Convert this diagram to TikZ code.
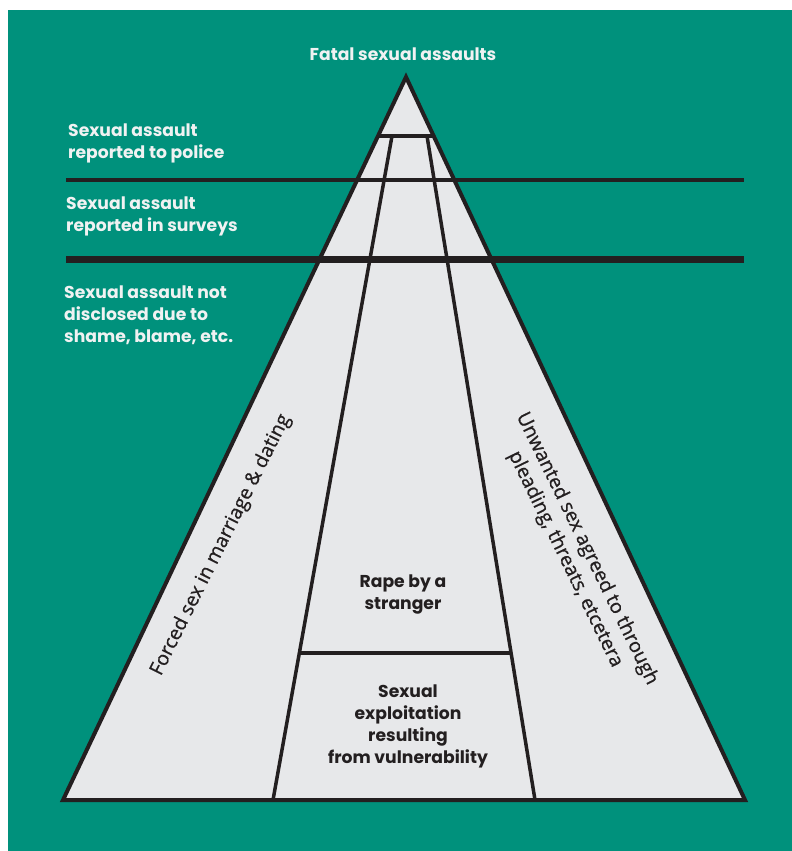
\documentclass[tikz,border=0pt]{standalone}
\usepackage{fontspec}
\setmainfont{Open Sans}[FakeBold=0.7]
\newfontfamily\headfont{Poppins}
\usetikzlibrary{calc}
\definecolor{tealbg}{RGB}{0,145,124}
\definecolor{pyrfill}{RGB}{231,232,234}
\definecolor{ink}{RGB}{35,31,32}
\definecolor{paletext}{RGB}{240,242,242}
\tikzset{
  wlabel/.style={text=paletext, font=\headfont\bfseries\fontsize{17.2}{22}\selectfont, inner sep=0pt},
  dlabel/.style={text=ink, font=\headfont\bfseries\fontsize{17.2}{22}\selectfont, inner sep=0pt, align=center},
  slabel/.style={text=ink, font=\fontsize{19.6}{24}\selectfont, inner sep=0pt, align=center},
  edge/.style={draw=ink, line width=4pt, line join=miter},
  divider/.style={draw=ink, line width=3.5pt},
}
\begin{document}
\begin{tikzpicture}[x=1pt,y=-1pt]
  \useasboundingbox (0,0) rectangle (792,851);
  \fill[white] (0,0) rectangle (792,851);
  \fill[tealbg] (8,10) rectangle (792,851);

  % pyramid corners
  \coordinate (apex) at (406,77);
  \coordinate (bl) at (63,800);
  \coordinate (br) at (745,800);
  % top cap
  \coordinate (capL) at ($(apex)!0.0816!(bl)$);
  \coordinate (capR) at ($(apex)!0.0816!(br)$);
  % inner dividers
  \coordinate (inLt) at (392,136);
  \coordinate (inLb) at (273,800);
  \coordinate (inRt) at (427,136);
  \coordinate (inRb) at (535,800);
  \coordinate (midL) at ($(inLt)!0.7786!(inLb)$);
  \coordinate (midR) at ($(inRt)!0.7786!(inRb)$);

  \filldraw[fill=pyrfill, edge] (apex) -- (br) -- (bl) -- cycle;
  \draw[divider] (capL) -- (capR);
  \draw[divider] (inLt) -- (inLb);
  \draw[divider] (inRt) -- (inRb);
  \draw[divider] (midL) -- (midR);

  % reporting thresholds
  \coordinate (t1a) at (66,180);
  \coordinate (t1b) at (744,180);
  \coordinate (t2a) at (66,259.5);
  \coordinate (t2b) at (744,259.5);
  \draw[draw=ink, line width=4pt] (t1a) -- (t1b);
  \draw[draw=ink, line width=7pt] (t2a) -- (t2b);

  % labels
  \node[wlabel] (fatal) at (403,54) {Fatal sexual assaults};
  \node[wlabel, anchor=west, align=left] (police) at (68,143) {Sexual assault\\reported to police};
  \node[wlabel, anchor=west, align=left] (survey) at (66,216) {Sexual assault\\reported in surveys};
  \node[wlabel, anchor=west, align=left] (hidden) at (64,315) {Sexual assault not\\disclosed due to\\shame, blame, etc.};

  \node[dlabel] (stranger) at (403,594) {Rape by a\\stranger};
  \node[dlabel] (exploit) at (408,726) {Sexual\\exploitation\\resulting\\from vulnerability};

  \node[slabel, rotate=63.4] (forced) at (221,545) {Forced sex in marriage \& dating};
  \node[slabel, rotate=-64] (unwanted) at (576,554) {Unwanted sex agreed to through\\pleading, threats, etcetera};
\end{tikzpicture}
\end{document}
